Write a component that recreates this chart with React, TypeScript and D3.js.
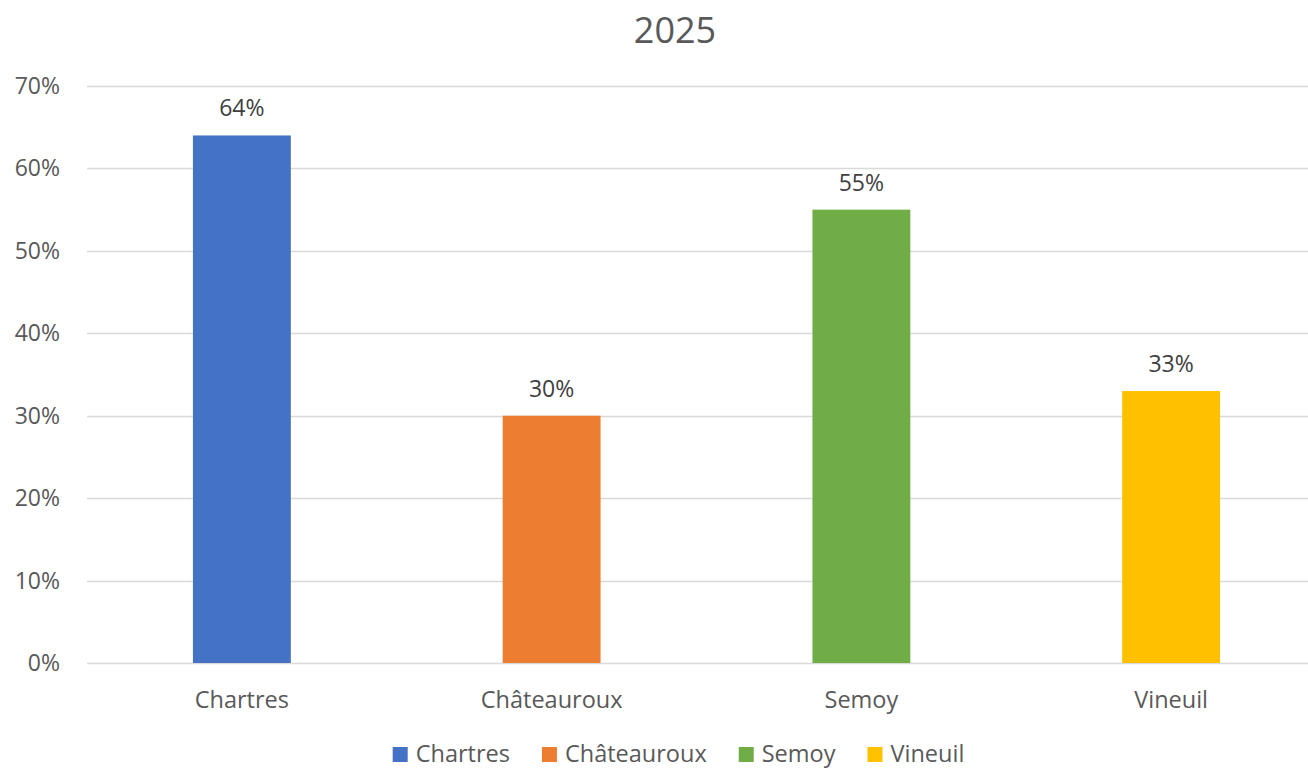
import { useEffect, useRef } from 'react';
import * as d3 from 'd3';

const categories = ['Chartres', 'Châteauroux', 'Semoy', 'Vineuil'];
const values = [0.64, 0.3, 0.55, 0.33];
const colors = ['#4472C4', '#ED7D31', '#70AD47', '#FFC000'];
const yTicks = [0, 0.1, 0.2, 0.3, 0.4, 0.5, 0.6, 0.7];
const title = '2025';

const W = 1308;
const H = 768;
const FONT = '"Open Sans", sans-serif';
const TEXT = '#595959';

export default function App() {
  const ref = useRef<SVGSVGElement | null>(null);

  useEffect(() => {
    const svg = d3.select(ref.current);
    svg.selectAll('*').remove();

    const margin = { left: 87, right: -18, top: 86, bottom: 105 };

    const x = d3
      .scaleBand()
      .domain(categories)
      .range([margin.left, W - margin.right])
      .paddingInner(0.684)
      .paddingOuter(0.342);

    const y = d3
      .scaleLinear()
      .domain([0, 0.7])
      .range([H - margin.bottom, margin.top]);

    const pct = d3.format('.0%');

    // grid
    svg
      .append('g')
      .selectAll('line')
      .data(yTicks)
      .enter()
      .append('line')
      .attr('x1', margin.left)
      .attr('x2', W)
      .attr('y1', (d) => Math.round(y(d)) + 0.5)
      .attr('y2', (d) => Math.round(y(d)) + 0.5)
      .attr('stroke', '#D9D9D9')
      .attr('stroke-width', 1.5);

    // y tick labels
    svg
      .append('g')
      .selectAll('text')
      .data(yTicks)
      .enter()
      .append('text')
      .attr('x', 60)
      .attr('y', (d) => y(d) + 8)
      .attr('text-anchor', 'end')
      .style('font-family', FONT)
      .style('font-size', '23px')
      .style('fill', TEXT)
      .text((d) => pct(d));

    // bars
    svg
      .append('g')
      .selectAll('rect')
      .data(values)
      .enter()
      .append('rect')
      .attr('x', (d, i) => x(categories[i])!)
      .attr('y', (d) => y(d))
      .attr('width', x.bandwidth())
      .attr('height', (d) => y(0) - y(d))
      .attr('fill', (d, i) => colors[i]);

    // data labels
    svg
      .append('g')
      .selectAll('text')
      .data(values)
      .enter()
      .append('text')
      .attr('x', (d, i) => x(categories[i])! + x.bandwidth() / 2)
      .attr('y', (d) => y(d) - 19)
      .attr('text-anchor', 'middle')
      .style('font-family', FONT)
      .style('font-size', '23px')
      .style('fill', '#404040')
      .text((d) => pct(d));

    // category labels
    svg
      .append('g')
      .selectAll('text')
      .data(categories)
      .enter()
      .append('text')
      .attr('x', (d) => x(d)! + x.bandwidth() / 2)
      .attr('y', 708)
      .attr('text-anchor', 'middle')
      .style('font-family', FONT)
      .style('font-size', '23.5px')
      .style('fill', TEXT)
      .text((d) => d);

    // title
    svg
      .append('text')
      .attr('x', 675)
      .attr('y', 43)
      .attr('text-anchor', 'middle')
      .style('font-family', FONT)
      .style('font-size', '36px')
      .style('fill', TEXT)
      .text(title);

    // legend
    const legend = svg.append('g');
    const items = legend
      .selectAll('g')
      .data(categories)
      .enter()
      .append('g');
    items
      .append('rect')
      .attr('width', 15)
      .attr('height', 15)
      .attr('y', 747)
      .attr('fill', (d, i) => colors[i]);
    const labels = items
      .append('text')
      .attr('x', 23)
      .attr('y', 762)
      .style('font-family', FONT)
      .style('font-size', '23.5px')
      .style('fill', TEXT)
      .text((d) => d);

    const widths: number[] = [];
    labels.each(function () {
      widths.push((this as SVGTextElement).getComputedTextLength());
    });
    const gap = 32;
    const itemW = widths.map((w) => 23 + w);
    const total = d3.sum(itemW) + gap * (itemW.length - 1);
    let cx = 678.5 - total / 2;
    items.attr('transform', (d, i) => {
      const t = `translate(${cx},0)`;
      cx += itemW[i] + gap;
      return t;
    });
  }, []);

  return (
    <svg
      ref={ref}
      width={W}
      height={H}
      style={{ position: 'absolute', left: 0, top: 0, background: '#fff' }}
    />
  );
}
